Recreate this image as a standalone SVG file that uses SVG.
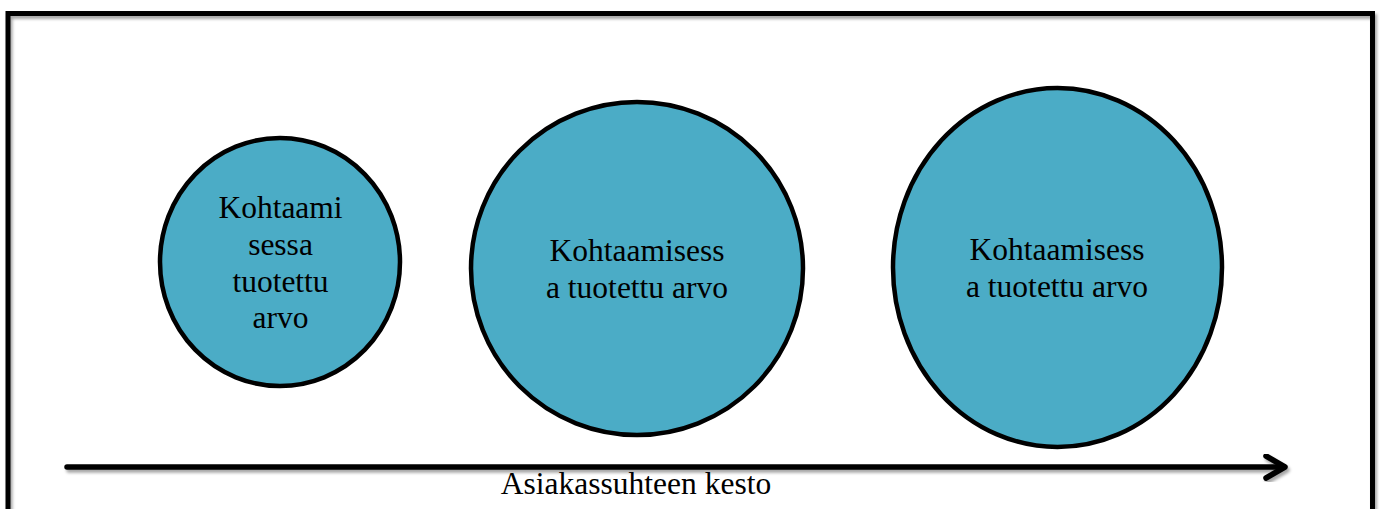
<svg xmlns="http://www.w3.org/2000/svg" width="1382" height="509" viewBox="0 0 1382 509">
  <style>
    .frame { fill: none; stroke: #000; stroke-width: 5; }
    .bubble { fill: #4BACC6; stroke: #000; stroke-width: 4.5; }
    .label { font-family: "Liberation Serif", "Times New Roman", serif; font-size: 31.5px; fill: #000; text-anchor: middle; }
    .axis { fill: none; stroke: #000; stroke-width: 5.5; stroke-linecap: round; stroke-linejoin: round; }
  </style>
  <defs>
    <filter id="soft-shadow" x="-5%" y="-5%" width="110%" height="120%">
      <feDropShadow dx="2" dy="3" stdDeviation="1.5" flood-color="#000" flood-opacity="0.35"/>
    </filter>
  </defs>

  <rect width="1382" height="509" fill="#fff"/>

  <!-- outer frame, open at the bottom edge of the page -->
  <rect class="frame" x="8" y="13.5" width="1364.5" height="520" filter="url(#soft-shadow)"/>

  <g id="bubble-1">
    <ellipse class="bubble" cx="280" cy="262" rx="120" ry="124"/>
    <text class="label" x="280.5" y="218">Kohtaami</text>
    <text class="label" x="280.5" y="255">sessa</text>
    <text class="label" x="280.5" y="292">tuotettu</text>
    <text class="label" x="280.5" y="328">arvo</text>
  </g>

  <g id="bubble-2">
    <ellipse class="bubble" cx="637" cy="268.5" rx="166" ry="166.5"/>
    <text class="label" x="637" y="261">Kohtaamisess</text>
    <text class="label" x="637" y="297.5">a tuotettu arvo</text>
  </g>

  <g id="bubble-3">
    <ellipse class="bubble" cx="1057.5" cy="267.5" rx="164.5" ry="179.5"/>
    <text class="label" x="1057" y="260">Kohtaamisess</text>
    <text class="label" x="1057" y="296.5">a tuotettu arvo</text>
  </g>

  <g id="connectors">
    <g filter="url(#soft-shadow)">
      <line class="axis" x1="67" y1="467" x2="1284" y2="467" stroke-linecap="butt"/>
      <polyline class="axis" points="1266,456 1285,467 1266,478"/>
    </g>
    <text class="label" x="636" y="494">Asiakassuhteen kesto</text>
  </g>
</svg>
